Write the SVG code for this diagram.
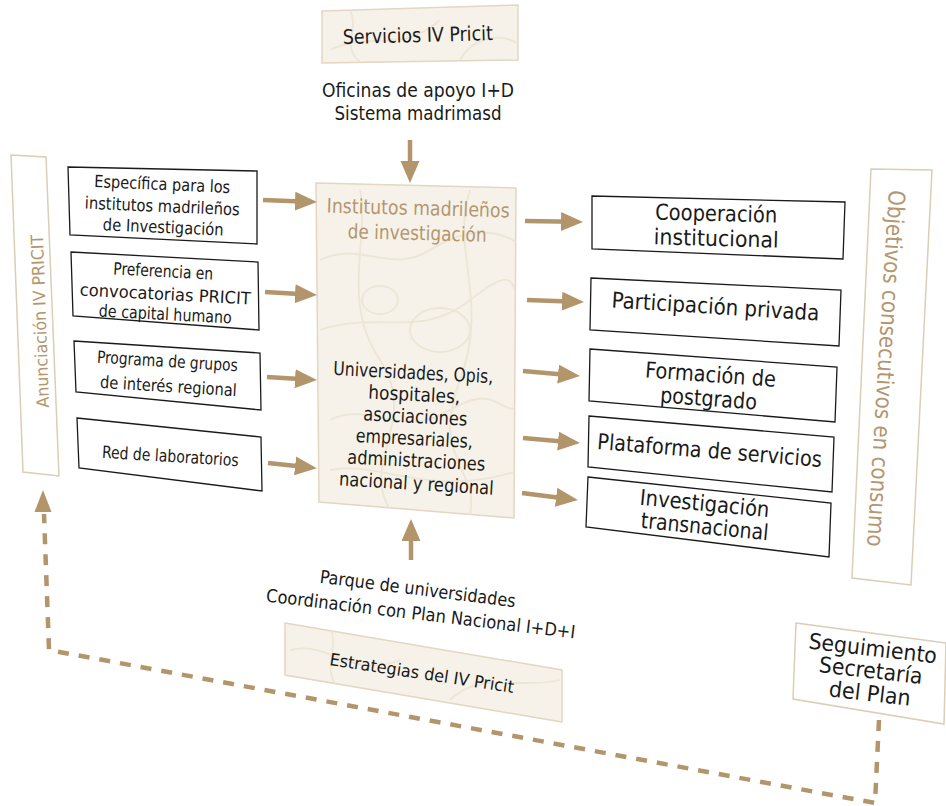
<svg xmlns="http://www.w3.org/2000/svg" width="946" height="806" viewBox="0 0 946 806">
<style>
text{font-family:"DejaVu Sans Condensed","DejaVu Sans","Liberation Sans",sans-serif;font-stretch:condensed;text-anchor:middle;fill:#1a1a1a}
.b{fill:#b4966f}
.box{fill:#fff;stroke:#1a1a1a;stroke-width:1.3}
.pale{fill:#fff;stroke:#dccdb5;stroke-width:1.5}
.tex{fill:#f6f2e9;stroke:#e3d6c2;stroke-width:1.5}
.texl{fill:none;stroke:#ede5d6;stroke-width:1.8}
.arr{fill:none;stroke:#b3956c;stroke-width:4.5;marker-end:url(#ah)}
.dash{fill:none;stroke:#b3956c;stroke-width:4.5;stroke-dasharray:11 10}
</style>
<defs>
<marker id="ah" markerUnits="userSpaceOnUse" markerWidth="24" markerHeight="20" refX="13" refY="9.5" orient="auto">
<path d="M0,0 L22,9.5 L0,19 z" fill="#b3956c"/>
</marker>
<clipPath id="cc"><polygon points="316,183 516,188 514,518 319,502"/></clipPath>
<clipPath id="cs"><polygon points="322,11 518,5 518,60 322,63"/></clipPath>
<clipPath id="ce"><polygon points="285,623 562,670 562,722 285,675"/></clipPath>
</defs>

<g id="servicios">
<polygon class="tex" points="322,11 518,5 518,60 322,63"/>
<g clip-path="url(#cs)"><path class="texl" d="M330,50 C370,30 400,55 440,20 M460,60 C470,40 500,30 520,45 M350,10 C360,30 340,45 360,62"/></g>
<text transform="translate(418,42) rotate(-1.5)" font-size="20" textLength="150" lengthAdjust="spacingAndGlyphs">Servicios IV Pricit</text>
</g>

<g id="oficinas">
<text x="418" y="97" font-size="20" textLength="192" lengthAdjust="spacingAndGlyphs">Oficinas de apoyo I+D</text>
<text x="418" y="120" font-size="20" textLength="167" lengthAdjust="spacingAndGlyphs">Sistema madrimasd</text>
</g>

<g id="institutos">
<polygon class="tex" points="316,183 516,188 514,518 319,502"/>
<g clip-path="url(#cc)">
<path class="texl" d="M320,260 C360,240 390,275 430,250 S500,230 520,245 M320,330 C380,310 420,340 470,300 S510,290 520,300 M330,420 C370,400 400,440 450,410 S500,420 520,405 M360,190 C370,240 340,300 380,360 S360,460 390,510 M470,190 C450,250 490,300 460,380 S480,470 470,515 M330,470 C380,460 430,500 520,470"/>
<ellipse cx="440" cy="330" rx="30" ry="22" class="texl"/>
<ellipse cx="380" cy="300" rx="18" ry="14" class="texl"/>
</g>
<text class="b" transform="translate(418,215) rotate(1.5)" font-size="20" textLength="183" lengthAdjust="spacingAndGlyphs">Institutos madrileños</text>
<text class="b" transform="translate(417,240) rotate(1.5)" font-size="20" textLength="139" lengthAdjust="spacingAndGlyphs">de investigación</text>
<text transform="translate(413,379) rotate(3)" font-size="19" textLength="160" lengthAdjust="spacingAndGlyphs">Universidades, Opis,</text>
<text transform="translate(414,401) rotate(3)" font-size="19" textLength="92" lengthAdjust="spacingAndGlyphs">hospitales,</text>
<text transform="translate(415,423) rotate(3)" font-size="19" textLength="104" lengthAdjust="spacingAndGlyphs">asociaciones</text>
<text transform="translate(414,445) rotate(3)" font-size="19" textLength="117" lengthAdjust="spacingAndGlyphs">empresariales,</text>
<text transform="translate(416,467) rotate(3)" font-size="19" textLength="138" lengthAdjust="spacingAndGlyphs">administraciones</text>
<text transform="translate(416,490) rotate(3.5)" font-size="19" textLength="155" lengthAdjust="spacingAndGlyphs">nacional y regional</text>
</g>

<g id="anunciacion">
<polygon class="pale" points="11,155 46,157 59,476 23,472"/>
<text class="b" transform="translate(46,321) rotate(-92)" font-size="17" textLength="173" lengthAdjust="spacingAndGlyphs">Anunciación IV PRICIT</text>
</g>

<g id="especifica">
<polygon class="box" points="68,167 257,171 257,244 70,235"/>
<text transform="translate(162,190) rotate(2.5)" font-size="17" textLength="136" lengthAdjust="spacingAndGlyphs">Específica para los</text>
<text transform="translate(162,212) rotate(2.5)" font-size="17" textLength="155" lengthAdjust="spacingAndGlyphs">institutos madrileños</text>
<text transform="translate(163,233) rotate(2.5)" font-size="17" textLength="121" lengthAdjust="spacingAndGlyphs">de Investigación</text>
</g>
<g id="preferencia">
<polygon class="box" points="71,252 258,262 259,330 73,316"/>
<text transform="translate(163,277) rotate(3)" font-size="17" textLength="100" lengthAdjust="spacingAndGlyphs">Preferencia en</text>
<text transform="translate(165,300) rotate(3)" font-size="17" textLength="171" lengthAdjust="spacingAndGlyphs">convocatorias PRICIT</text>
<text transform="translate(165,320) rotate(3)" font-size="17" textLength="133" lengthAdjust="spacingAndGlyphs">de capital humano</text>
</g>
<g id="programa">
<polygon class="box" points="74,341 260,353 261,410 76,392"/>
<text transform="translate(167,367) rotate(3.5)" font-size="17" textLength="141" lengthAdjust="spacingAndGlyphs">Programa de grupos</text>
<text transform="translate(168,392) rotate(3.5)" font-size="17" textLength="137" lengthAdjust="spacingAndGlyphs">de interés regional</text>
</g>
<g id="red">
<polygon class="box" points="77,418 261,437 262,491 79,468"/>
<text transform="translate(170,462) rotate(3.5)" font-size="17" textLength="137" lengthAdjust="spacingAndGlyphs">Red de laboratorios</text>
</g>

<g id="cooperacion">
<polygon class="box" points="592,196 845,202 843,259 592,249"/>
<text transform="translate(716,221) rotate(1.5)" font-size="22" textLength="122" lengthAdjust="spacingAndGlyphs">Cooperación</text>
<text transform="translate(716,246) rotate(1.5)" font-size="22" textLength="125" lengthAdjust="spacingAndGlyphs">institucional</text>
</g>
<g id="participacion">
<polygon class="box" points="591,278 841,290 839,346 590,330"/>
<text transform="translate(715,314) rotate(3.6)" font-size="22" textLength="208" lengthAdjust="spacingAndGlyphs">Participación privada</text>
</g>
<g id="formacion">
<polygon class="box" points="590,349 837,367 835,422 589,401"/>
<text transform="translate(710,382) rotate(4.2)" font-size="22" textLength="131" lengthAdjust="spacingAndGlyphs">Formación de</text>
<text transform="translate(708,406) rotate(4.2)" font-size="22" textLength="97" lengthAdjust="spacingAndGlyphs">postgrado</text>
</g>
<g id="plataforma">
<polygon class="box" points="589,416 834,437 832,492 588,467"/>
<text transform="translate(709,458) rotate(4.6)" font-size="22" textLength="225" lengthAdjust="spacingAndGlyphs">Plataforma de servicios</text>
</g>
<g id="investigacion">
<polygon class="box" points="588,477 831,503 829,557 586,527"/>
<text transform="translate(704,511) rotate(5.5)" font-size="22" textLength="130" lengthAdjust="spacingAndGlyphs">Investigación</text>
<text transform="translate(704,534) rotate(5.5)" font-size="22" textLength="128" lengthAdjust="spacingAndGlyphs">transnacional</text>
</g>

<g id="objetivos">
<polygon class="pale" points="871,169 932,170 911,585 852,578"/>
<text class="b" transform="translate(878,368) rotate(93.5)" font-size="23" textLength="357" lengthAdjust="spacingAndGlyphs">Objetivos consecutivos en consumo</text>
</g>

<g id="parque">
<text transform="translate(417,595) rotate(7.2)" font-size="18" textLength="197" lengthAdjust="spacingAndGlyphs">Parque de universidades</text>
<text transform="translate(420,620) rotate(6.8)" font-size="18" textLength="311" lengthAdjust="spacingAndGlyphs">Coordinación con Plan Nacional I+D+I</text>
</g>

<g id="estrategias">
<polygon class="tex" points="285,623 562,670 562,722 285,675"/>
<g clip-path="url(#ce)"><path class="texl" d="M290,650 C330,640 350,680 400,660 M450,700 C480,670 520,690 560,680 M330,625 C340,650 320,670 340,690"/></g>
<text transform="translate(421,679) rotate(8.6)" font-size="17" textLength="186" lengthAdjust="spacingAndGlyphs">Estrategias del IV Pricit</text>
</g>

<g id="seguimiento">
<polygon class="pale" points="796,623 946,643 944,724 793,699"/>
<text transform="translate(872,656) rotate(6.6)" font-size="22" textLength="129" lengthAdjust="spacingAndGlyphs">Seguimiento</text>
<text transform="translate(870,678) rotate(6.6)" font-size="22" textLength="104" lengthAdjust="spacingAndGlyphs">Secretaría</text>
<text transform="translate(869,701) rotate(6.6)" font-size="22" textLength="82" lengthAdjust="spacingAndGlyphs">del Plan</text>
</g>

<g id="connectors">
<path class="arr" d="M410,140 L410,174"/>
<path class="arr" d="M411,560 L411,528"/>
<path class="arr" d="M263,200 L308,201.7"/>
<path class="arr" d="M265,292 L308,294.5"/>
<path class="arr" d="M267,377 L308,379.5"/>
<path class="arr" d="M268,463 L308,467.2"/>
<path class="arr" d="M525,221 L574,221.8"/>
<path class="arr" d="M527,300 L575,301.7"/>
<path class="arr" d="M523,371 L571,375.2"/>
<path class="arr" d="M523,438 L571,442.2"/>
<path class="arr" d="M522,493 L569,498.9"/>
<path class="dash" d="M879,720 L875,803 L49,650 L44,514"/>
<path d="M43,490 L51.5,512 L34.5,512 z" fill="#b3956c"/>
</g>
</svg>
